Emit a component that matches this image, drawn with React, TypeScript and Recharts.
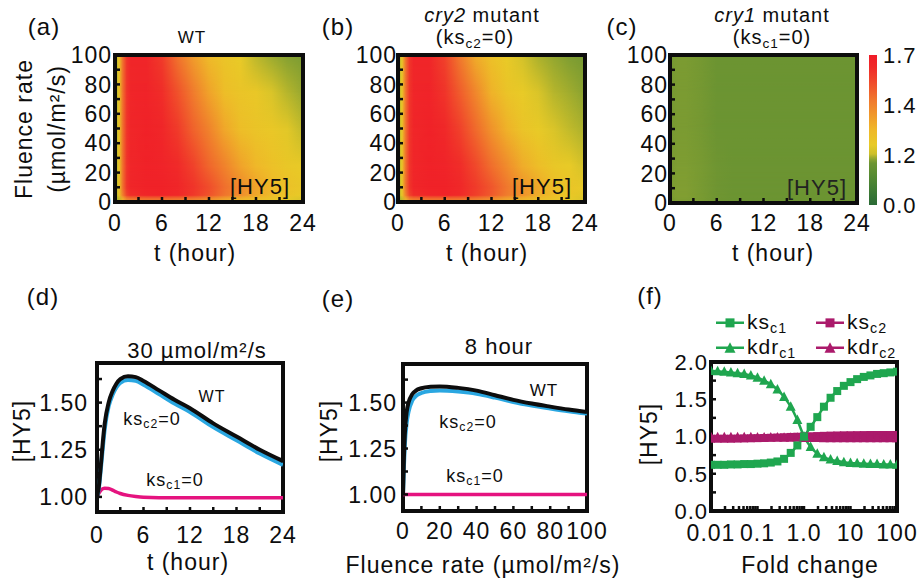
import React from "react"
import { ComposedChart, LineChart, Line, XAxis, YAxis, ReferenceArea } from "recharts"

const FONT = '"Liberation Sans", Arial, Helvetica, sans-serif'
const INK = "#0d0d0d"

// ---------- heat maps (a)-(c): [HY5] on a time x fluence grid ----------
const heatTimes = [0, 0.5, 1, 1.5, 2, 4, 6, 8, 10, 12, 14, 16, 18, 20, 22, 24]
const heatFluences = [0, 2, 5, 10, 25, 50, 75, 100]
const heatTimeTicks = [0, 3, 6, 9, 12, 15, 18, 21, 24]
const heatTimeLabels = [0, 6, 12, 18, 24]
const heatFluenceTicks = [0, 10, 20, 30, 40, 50, 60, 70, 80, 90, 100]
const heatFluenceLabels = [0, 20, 40, 60, 80, 100]

// rows follow heatFluences, columns follow heatTimes
const wtHeat = [
  [1.08, 1.12, 1.16, 1.19, 1.2, 1.22, 1.23, 1.23, 1.23, 1.23, 1.22, 1.22, 1.21, 1.21, 1.2, 1.2],
  [1.1, 1.2, 1.32, 1.4, 1.43, 1.45, 1.45, 1.44, 1.42, 1.38, 1.34, 1.31, 1.28, 1.26, 1.24, 1.22],
  [1.12, 1.25, 1.42, 1.56, 1.62, 1.65, 1.66, 1.64, 1.59, 1.52, 1.44, 1.38, 1.33, 1.29, 1.26, 1.24],
  [1.12, 1.25, 1.45, 1.6, 1.65, 1.67, 1.67, 1.65, 1.6, 1.53, 1.45, 1.39, 1.34, 1.3, 1.27, 1.25],
  [1.12, 1.25, 1.45, 1.6, 1.65, 1.67, 1.66, 1.63, 1.56, 1.47, 1.4, 1.34, 1.3, 1.27, 1.25, 1.24],
  [1.12, 1.25, 1.45, 1.6, 1.65, 1.67, 1.65, 1.58, 1.48, 1.4, 1.33, 1.28, 1.26, 1.25, 1.23, 1.2],
  [1.12, 1.25, 1.45, 1.6, 1.65, 1.66, 1.62, 1.52, 1.42, 1.34, 1.28, 1.26, 1.25, 1.22, 1.18, 1.12],
  [1.12, 1.25, 1.45, 1.6, 1.65, 1.65, 1.58, 1.44, 1.35, 1.29, 1.26, 1.24, 1.19, 1.13, 1.08, 1.05],
]
const cry2Heat = [
  [1.08, 1.12, 1.16, 1.19, 1.2, 1.22, 1.23, 1.23, 1.23, 1.23, 1.22, 1.22, 1.21, 1.21, 1.2, 1.2],
  [1.1, 1.2, 1.32, 1.4, 1.43, 1.45, 1.45, 1.44, 1.42, 1.38, 1.34, 1.31, 1.28, 1.26, 1.24, 1.22],
  [1.12, 1.25, 1.42, 1.56, 1.62, 1.65, 1.66, 1.63, 1.57, 1.5, 1.42, 1.37, 1.32, 1.28, 1.25, 1.23],
  [1.12, 1.25, 1.45, 1.6, 1.65, 1.67, 1.67, 1.64, 1.58, 1.51, 1.43, 1.37, 1.33, 1.28, 1.26, 1.24],
  [1.12, 1.25, 1.45, 1.6, 1.65, 1.67, 1.66, 1.62, 1.54, 1.45, 1.38, 1.32, 1.28, 1.25, 1.24, 1.21],
  [1.12, 1.25, 1.45, 1.6, 1.65, 1.67, 1.64, 1.56, 1.46, 1.37, 1.31, 1.26, 1.24, 1.22, 1.2, 1.16],
  [1.12, 1.25, 1.45, 1.6, 1.65, 1.66, 1.6, 1.49, 1.39, 1.31, 1.26, 1.24, 1.22, 1.18, 1.14, 1.09],
  [1.12, 1.25, 1.45, 1.6, 1.65, 1.65, 1.56, 1.42, 1.32, 1.27, 1.24, 1.21, 1.16, 1.11, 1.06, 1.03],
]
const cry1Heat = [
  [1.02, 1.03, 1.03, 1.03, 1.03, 1.02, 1.0, 1.0, 1.0, 1.0, 1.0, 1.0, 1.0, 1.0, 1.0, 1.0],
  [1.03, 1.05, 1.06, 1.06, 1.06, 1.04, 1.01, 1.0, 1.0, 1.0, 1.0, 1.0, 1.0, 1.0, 1.0, 1.0],
  [1.04, 1.06, 1.07, 1.07, 1.07, 1.04, 1.01, 1.0, 1.0, 1.0, 1.0, 1.0, 1.0, 1.0, 1.0, 1.0],
  [1.04, 1.06, 1.07, 1.07, 1.07, 1.04, 1.01, 1.0, 1.0, 1.0, 1.0, 1.0, 1.0, 1.0, 1.0, 1.0],
  [1.03, 1.05, 1.06, 1.06, 1.06, 1.04, 1.01, 1.0, 1.0, 1.0, 1.0, 1.0, 1.0, 1.0, 1.0, 1.0],
  [1.02, 1.04, 1.05, 1.05, 1.05, 1.03, 1.0, 1.0, 1.0, 1.0, 1.0, 1.0, 1.0, 1.0, 1.0, 1.0],
  [1.02, 1.04, 1.05, 1.05, 1.05, 1.03, 1.0, 1.0, 1.0, 1.0, 1.0, 1.0, 1.0, 1.0, 1.0, 1.0],
  [1.02, 1.04, 1.05, 1.05, 1.05, 1.03, 1.0, 1.0, 1.0, 1.0, 1.0, 1.0, 1.0, 1.0, 1.0, 1.0],
]

// colour bar: labels sit at even steps, so the scale is piecewise
const colorbarValues = [0.0, 1.2, 1.4, 1.7]
const colorbarLabels = ["0.0", "1.2", "1.4", "1.7"]
const colorbarLevels = [0, 1, 2, 3]
const colorStops: [number, string][] = [
  [0.0, "#2a6a36"],
  [0.1, "#3f7c34"],
  [0.2, "#578b32"],
  [0.278, "#6c9432"],
  [0.3, "#84a032"],
  [0.318, "#a2ad2e"],
  [0.34, "#cdbf2a"],
  [0.4, "#e8ca27"],
  [0.5, "#efb829"],
  [0.6, "#f0982b"],
  [0.7, "#f0782d"],
  [0.82, "#f04a2b"],
  [0.92, "#f02a29"],
  [1.0, "#f01c28"],
]

// ---------- (d) 30 umol/m2/s time course ----------
const dTimes = [0, 0.25, 0.5, 0.75, 1, 1.5, 2, 2.5, 3, 4, 5, 6, 8, 10, 12, 15, 18, 21, 24]
const dWT = [1.0, 1.06, 1.17, 1.29, 1.39, 1.5, 1.56, 1.6, 1.625, 1.64, 1.635, 1.615, 1.565, 1.515, 1.47, 1.39, 1.32, 1.25, 1.19]
const dKsc2 = [1.0, 1.05, 1.15, 1.26, 1.36, 1.48, 1.54, 1.58, 1.605, 1.62, 1.615, 1.595, 1.545, 1.495, 1.45, 1.37, 1.3, 1.23, 1.17]
const dKsc1 = [1.0, 1.02, 1.035, 1.043, 1.046, 1.045, 1.036, 1.026, 1.018, 1.008, 1.002, 0.998, 0.996, 0.996, 0.996, 0.996, 0.996, 0.996, 0.996]
const dTimeTicks = [0, 3, 6, 9, 12, 15, 18, 21, 24]
const dTimeLabels = [0, 6, 12, 18, 24]
const dValueTicks = [1.0, 1.125, 1.25, 1.375, 1.5, 1.625]
const dValueLabels = [1.0, 1.25, 1.5]

// ---------- (e) 8 hour fluence response ----------
const eFluence = [0, 0.5, 1, 2, 3, 5, 7, 10, 15, 20, 30, 40, 50, 60, 70, 80, 90, 100]
const eWT = [1.0, 1.2, 1.33, 1.45, 1.5, 1.545, 1.565, 1.578, 1.586, 1.588, 1.58, 1.565, 1.54, 1.515, 1.495, 1.478, 1.462, 1.448]
const eKsc2 = [1.0, 1.15, 1.27, 1.39, 1.45, 1.51, 1.535, 1.552, 1.563, 1.566, 1.56, 1.548, 1.527, 1.503, 1.484, 1.468, 1.453, 1.44]
const eKsc1 = [1.0, 1.0, 1.0, 1.0, 1.0, 1.0, 1.0, 1.0, 1.0, 1.0, 1.0, 1.0, 1.0, 1.0, 1.0, 1.0, 1.0, 1.0]
const eFluenceTicks = [0, 10, 20, 30, 40, 50, 60, 70, 80, 90, 100]
const eFluenceLabels = [0, 20, 40, 60, 80, 100]

// ---------- (f) parameter sensitivity ----------
const foldChange = [
  0.01, 0.01389, 0.01931, 0.02683, 0.03728, 0.0518, 0.07197, 0.1, 0.1389, 0.1931, 0.2683, 0.3728, 0.518, 0.7197, 1,
  1.389, 1.931, 2.683, 3.728, 5.18, 7.197, 10, 13.89, 19.31, 26.83, 37.28, 51.8, 71.97, 100,
]
const fKsc1 = [
  0.62, 0.62, 0.62, 0.625, 0.625, 0.63, 0.63, 0.635, 0.64, 0.65, 0.665, 0.7, 0.78, 0.88, 1.0,
  1.13, 1.26, 1.4, 1.52, 1.61, 1.68, 1.73, 1.77, 1.8, 1.82, 1.84, 1.85, 1.86, 1.87,
]
const fKdrc1 = [
  1.88, 1.875, 1.87, 1.86, 1.85, 1.84, 1.82, 1.79, 1.75, 1.7, 1.63, 1.53, 1.4, 1.22, 1.0,
  0.86, 0.77, 0.72, 0.69, 0.67, 0.655, 0.645, 0.64, 0.635, 0.63, 0.63, 0.625, 0.625, 0.62,
]
const fKsc2 = [
  0.97, 0.97, 0.97, 0.97, 0.972, 0.974, 0.976, 0.978, 0.98, 0.983, 0.986, 0.99, 0.994, 0.997, 1.0,
  1.003, 1.006, 1.009, 1.012, 1.014, 1.016, 1.017, 1.018, 1.019, 1.02, 1.02, 1.02, 1.02, 1.02,
]
const fKdrc2 = [
  0.99, 0.99, 0.99, 0.99, 0.99, 0.99, 0.989, 0.988, 0.987, 0.986, 0.985, 0.984, 0.983, 0.982, 0.981,
  0.98, 0.979, 0.978, 0.977, 0.977, 0.976, 0.976, 0.975, 0.975, 0.975, 0.975, 0.975, 0.975, 0.975,
]
const foldTicks = [
  0.01, 0.02, 0.03, 0.04, 0.05, 0.06, 0.07, 0.08, 0.09, 0.1, 0.2, 0.3, 0.4, 0.5, 0.6, 0.7, 0.8, 0.9, 1,
  2, 3, 4, 5, 6, 7, 8, 9, 10, 20, 30, 40, 50, 60, 70, 80, 90, 100,
]
const foldLabelValues = [0.01, 0.1, 1, 10, 100]
const foldLabelTexts = ["0.01", "0.1", "1.0", "10", "100"]
const fValueTicks = [0, 0.25, 0.5, 0.75, 1, 1.25, 1.5, 1.75, 2]
const fValueLabels = [0, 0.5, 1, 1.5, 2]

const GREEN = "#1fa64f"
const MAGENTA = "#ab1a6b"
const foldSeries = [
  { key: "ksc2", base: "ks", sub: "c2", color: MAGENTA, marker: "square" },
  { key: "kdrc2", base: "kdr", sub: "c2", color: MAGENTA, marker: "triangle" },
  { key: "ksc1", base: "ks", sub: "c1", color: GREEN, marker: "square" },
  { key: "kdrc1", base: "kdr", sub: "c1", color: GREEN, marker: "triangle" },
]

// ---------- helpers ----------
const hexToRgb = (h: string) => [1, 3, 5].map((i) => parseInt(h.slice(i, i + 2), 16))
function colorAt(pos: number) {
  const p = Math.max(0, Math.min(1, pos))
  for (let i = 0; i < colorStops.length - 1; i++) {
    const [p0, c0] = colorStops[i]
    const [p1, c1] = colorStops[i + 1]
    if (p <= p1) {
      const f = (p - p0) / (p1 - p0)
      const a = hexToRgb(c0)
      const b = hexToRgb(c1)
      return `rgb(${a.map((v, k) => Math.round(v + (b[k] - v) * f)).join(",")})`
    }
  }
  return colorStops[colorStops.length - 1][1]
}
function valueToPos(v: number) {
  const n = colorbarValues.length - 1
  for (let i = 0; i < n; i++) {
    const a = colorbarValues[i]
    const b = colorbarValues[i + 1]
    if (v <= b || i === n - 1) return (i + (v - a) / (b - a)) / n
  }
  return 1
}
const heatColor = (v: number) => colorAt(valueToPos(v))

const YW = 80
const XH = 70
const MT = 20
const MR = 20
type Box = { x: number; y: number; w: number; h: number }
const wrap = (b: Box): React.CSSProperties => ({
  position: "absolute",
  left: b.x - YW,
  top: b.y - MT,
  width: b.w + YW + MR,
  height: b.h + MT + XH,
})
const margin = { top: MT, right: MR, left: 0, bottom: 0 }
const tickText = { fill: INK, fontSize: 23 }
const tickLine = { stroke: INK, strokeWidth: 2.5 }
const onlyLabels = (labels: number[], digits = 0) => (v: number) => (labels.includes(v) ? v.toFixed(digits) : "")

function Txt({ x, y, size = 23, rotate, style, children }: any) {
  return (
    <div
      style={{
        position: "absolute",
        left: x,
        top: y,
        transform: `translate(-50%, -50%)${rotate ? ` rotate(${rotate}deg)` : ""}`,
        fontSize: size,
        lineHeight: 1,
        whiteSpace: "nowrap",
        ...style,
      }}
    >
      {children}
    </div>
  )
}
const Sub = ({ children }: any) => <span style={{ fontSize: "0.68em", verticalAlign: "-0.28em" }}>{children}</span>

function HeatBand(props: any) {
  const { x, y, width, height, lower, upper } = props
  return (
    <g>
      <rect x={x} y={y} width={width} height={height + 1} fill={`url(#${lower})`} />
      <rect x={x} y={y} width={width} height={height} fill={`url(#${upper})`} mask="url(#heat-fade)" />
    </g>
  )
}

function HeatDefs({ id, grid }: { id: string; grid: number[][] }) {
  const t0 = heatTimes[0]
  const t1 = heatTimes[heatTimes.length - 1]
  return (
    <>
      {grid.map((row, i) => (
        <linearGradient key={i} id={`${id}-row${i}`} x1="0" y1="0" x2="1" y2="0">
          {row.map((v, j) => (
            <stop key={j} offset={(heatTimes[j] - t0) / (t1 - t0)} stopColor={heatColor(v)} />
          ))}
        </linearGradient>
      ))}
    </>
  )
}

function HeatPanel({ id, box, yMargin, xMargin }: { id: string; box: Box; yMargin: number; xMargin: number }) {
  const data = heatTimes.map((t) => ({ t }))
  return (
    <div style={wrap(box)}>
      <ComposedChart width={box.w + YW + MR} height={box.h + MT + XH} data={data} margin={margin}>
        <XAxis
          type="number"
          dataKey="t"
          domain={[0, 24]}
          allowDataOverflow
          ticks={heatTimeTicks}
          interval={0}
          tickFormatter={onlyLabels(heatTimeLabels)}
          axisLine={false}
          tickSize={-5}
          tickMargin={xMargin}
          tickLine={tickLine}
          tick={tickText}
          height={XH}
        />
        <YAxis
          type="number"
          domain={[0, 100]}
          allowDataOverflow
          ticks={heatFluenceTicks}
          interval={0}
          tickFormatter={onlyLabels(heatFluenceLabels)}
          axisLine={false}
          tickSize={-5}
          tickMargin={yMargin}
          tickLine={tickLine}
          tick={tickText}
          width={YW}
        />
        {heatFluences.slice(0, -1).map((f, i) => (
          <ReferenceArea
            key={i}
            x1={0}
            x2={24}
            y1={f}
            y2={heatFluences[i + 1]}
            shape={(p: any) => <HeatBand {...p} lower={`${id}-row${i}`} upper={`${id}-row${i + 1}`} />}
          />
        ))}
        <ReferenceArea x1={0} x2={24} y1={0} y2={100} fill="none" stroke={INK} strokeWidth={4} />
      </ComposedChart>
    </div>
  )
}

function ColorBar() {
  const box = { x: 869, y: 55, w: 8, h: 150 }
  const RW = 46
  const BH = 20
  const data = colorbarLevels.map((level) => ({ level }))
  const top = colorbarLevels.length - 1
  return (
    <div style={{ position: "absolute", left: box.x, top: box.y - MT, width: box.w + RW, height: box.h + MT + BH }}>
      <ComposedChart width={box.w + RW} height={box.h + MT + BH} data={data} margin={{ top: MT, right: 0, left: 0, bottom: 0 }}>
        <XAxis
          type="number"
          dataKey="level"
          domain={[0, top]}
          allowDataOverflow
          tick={false}
          axisLine={false}
          tickLine={false}
          height={BH}
        />
        <YAxis
          orientation="right"
          type="number"
          domain={[0, top]}
          allowDataOverflow
          ticks={colorbarLevels}
          interval={0}
          tickFormatter={(v: number) => colorbarLabels[v]}
          axisLine={false}
          tickLine={false}
          tickSize={0}
          tickMargin={6}
          tick={{ fill: INK, fontSize: 22 }}
          width={RW}
        />
        <ReferenceArea x1={0} x2={top} y1={0} y2={top} fill="url(#cbar)" fillOpacity={1} />
      </ComposedChart>
    </div>
  )
}

function FramedLines(props: any) {
  const { box, data, xKey, xDomain, xTicks, xFormat, yDomain, yTicks, yFormat, xMargin, yMargin, xScale, yFont, children } = props
  return (
    <div style={wrap(box)}>
      <LineChart width={box.w + YW + MR} height={box.h + MT + XH} data={data} margin={margin}>
        <XAxis
          type="number"
          dataKey={xKey}
          scale={xScale || "auto"}
          domain={xDomain}
          allowDataOverflow
          ticks={xTicks}
          interval={0}
          tickFormatter={xFormat}
          axisLine={false}
          tickSize={-5}
          tickMargin={xMargin}
          tickLine={tickLine}
          tick={tickText}
          height={XH}
        />
        <YAxis
          type="number"
          domain={yDomain}
          allowDataOverflow
          ticks={yTicks}
          interval={0}
          tickFormatter={yFormat}
          axisLine={false}
          tickSize={-5}
          tickMargin={yMargin}
          tickLine={tickLine}
          tick={{ fill: INK, fontSize: yFont || 23 }}
          width={YW}
        />
        {children}
        <ReferenceArea x1={xDomain[0]} x2={xDomain[1]} y1={yDomain[0]} y2={yDomain[1]} fill="none" stroke={INK} strokeWidth={4} />
      </LineChart>
    </div>
  )
}

const squareDot = (color: string) => (p: any) => (
  <rect key={`s${p.index}`} x={p.cx - 4} y={p.cy - 4} width={8} height={8} fill={color} />
)
const triangleDot = (color: string) => (p: any) => (
  <path
    key={`t${p.index}`}
    d={`M${p.cx},${p.cy - 5.5}L${p.cx + 5},${p.cy + 4}L${p.cx - 5},${p.cy + 4}Z`}
    fill={color}
  />
)

function LegendItem({ x, y, s }: any) {
  return (
    <div style={{ position: "absolute", left: x, top: y, transform: "translateY(-50%)", display: "flex", alignItems: "center", fontSize: 21, lineHeight: 1, whiteSpace: "nowrap" }}>
      <svg width={28} height={12} style={{ marginRight: 3 }}>
        <line x1={0} y1={6} x2={28} y2={6} stroke={s.color} strokeWidth={2.5} />
        {s.marker === "square" ? (
          <rect x={9.5} y={1.5} width={9} height={9} fill={s.color} />
        ) : (
          <path d="M14,0.5L19.5,11L8.5,11Z" fill={s.color} />
        )}
      </svg>
      <span>
        {s.base}
        <Sub>{s.sub}</Sub>
      </span>
    </div>
  )
}

export default function App() {
  const dData = dTimes.map((t, i) => ({ t, wt: dWT[i], ksc2: dKsc2[i], ksc1: dKsc1[i] }))
  const eData = eFluence.map((f, i) => ({ f, wt: eWT[i], ksc2: eKsc2[i], ksc1: eKsc1[i] }))
  const fData = foldChange.map((f, i) => ({ f, ksc1: fKsc1[i], kdrc1: fKdrc1[i], ksc2: fKsc2[i], kdrc2: fKdrc2[i] }))
  const legendPos: Record<string, [number, number]> = {
    ksc1: [716, 323],
    kdrc1: [716, 348],
    ksc2: [816, 323],
    kdrc2: [816, 348],
  }

  return (
    <div
      style={{
        position: "absolute",
        left: 0,
        top: 0,
        width: 923,
        height: 579,
        background: "#fff",
        fontFamily: FONT,
        color: INK,
        letterSpacing: "1px",
        overflow: "hidden",
      }}
    >
      <svg width={0} height={0} style={{ position: "absolute" }}>
        <defs>
          <linearGradient id="heat-fade-grad" x1="0" y1="0" x2="0" y2="1">
            <stop offset={0} stopColor="#fff" stopOpacity={1} />
            <stop offset={1} stopColor="#fff" stopOpacity={0} />
          </linearGradient>
          <mask id="heat-fade" maskContentUnits="objectBoundingBox">
            <rect x={0} y={0} width={1} height={1} fill="url(#heat-fade-grad)" />
          </mask>
          <linearGradient id="cbar" x1="0" y1="1" x2="0" y2="0">
            {colorStops.map(([p, c], i) => (
              <stop key={i} offset={p} stopColor={c} />
            ))}
          </linearGradient>
          <HeatDefs id="wt" grid={wtHeat} />
          <HeatDefs id="cry2" grid={cry2Heat} />
          <HeatDefs id="cry1" grid={cry1Heat} />
        </defs>
      </svg>

      <HeatPanel id="wt" box={{ x: 115, y: 55, w: 188, h: 147 }} yMargin={8} xMargin={18} />
      <HeatPanel id="cry2" box={{ x: 398, y: 55, w: 187, h: 147 }} yMargin={6} xMargin={18} />
      <HeatPanel id="cry1" box={{ x: 670, y: 55, w: 187, h: 148 }} yMargin={7} xMargin={17} />
      <ColorBar />

      <FramedLines
        box={{ x: 97, y: 363, w: 186, h: 149 }}
        data={dData}
        xKey="t"
        xDomain={[0, 24]}
        xTicks={dTimeTicks}
        xFormat={onlyLabels(dTimeLabels)}
        yDomain={[0.92, 1.71]}
        yTicks={dValueTicks}
        yFormat={onlyLabels(dValueLabels, 2)}
        xMargin={20}
        yMargin={14}
      >
        <Line type="monotone" dataKey="ksc1" stroke="#e5137f" strokeWidth={3.5} dot={false} isAnimationActive={false} />
        <Line type="monotone" dataKey="ksc2" stroke="#2aa7e1" strokeWidth={4} dot={false} isAnimationActive={false} />
        <Line type="monotone" dataKey="wt" stroke={INK} strokeWidth={4} dot={false} isAnimationActive={false} />
      </FramedLines>

      <FramedLines
        box={{ x: 403, y: 364, w: 184, h: 147 }}
        data={eData}
        xKey="f"
        xDomain={[0, 100]}
        xTicks={eFluenceTicks}
        xFormat={onlyLabels(eFluenceLabels)}
        yDomain={[0.91, 1.71]}
        yTicks={dValueTicks}
        yFormat={onlyLabels(dValueLabels, 2)}
        xMargin={17}
        yMargin={11}
      >
        <Line type="monotone" dataKey="ksc1" stroke="#e5137f" strokeWidth={3.5} dot={false} isAnimationActive={false} />
        <Line type="monotone" dataKey="ksc2" stroke="#2aa7e1" strokeWidth={4} dot={false} isAnimationActive={false} />
        <Line type="monotone" dataKey="wt" stroke={INK} strokeWidth={4} dot={false} isAnimationActive={false} />
      </FramedLines>

      <FramedLines
        box={{ x: 711, y: 362, w: 186, h: 149 }}
        data={fData}
        xKey="f"
        xScale="log"
        xDomain={[0.01, 100]}
        xTicks={foldTicks}
        xFormat={(v: number) => {
          const i = foldLabelValues.indexOf(v)
          return i >= 0 ? foldLabelTexts[i] : ""
        }}
        yDomain={[0, 2]}
        yTicks={fValueTicks}
        yFormat={onlyLabels(fValueLabels, 1)}
        xMargin={19}
        yMargin={8}
        yFont={22}
      >
        {foldSeries.map((s) => (
          <Line
            key={s.key}
            type="monotone"
            dataKey={s.key}
            stroke={s.color}
            strokeWidth={2.5}
            dot={s.marker === "square" ? squareDot(s.color) : triangleDot(s.color)}
            isAnimationActive={false}
          />
        ))}
      </FramedLines>

      {/* panel letters */}
      <Txt x={44} y={27} size={24}>(a)</Txt>
      <Txt x={338} y={27} size={24}>(b)</Txt>
      <Txt x={622} y={27} size={24}>(c)</Txt>
      <Txt x={43} y={297} size={24}>(d)</Txt>
      <Txt x={338} y={299} size={24}>(e)</Txt>
      <Txt x={650} y={296} size={24}>(f)</Txt>

      {/* titles */}
      <Txt x={192} y={37} size={17}>WT</Txt>
      <Txt x={482} y={15} size={20}>
        <i>cry2</i> mutant
      </Txt>
      <Txt x={475} y={39} size={20}>
        (ks<Sub>c2</Sub>=0)
      </Txt>
      <Txt x={772} y={15} size={20}>
        <i>cry1</i> mutant
      </Txt>
      <Txt x={772} y={39} size={20}>
        (ks<Sub>c1</Sub>=0)
      </Txt>
      <Txt x={197} y={351} size={22}>30 µmol/m²/s</Txt>
      <Txt x={499} y={347} size={22}>8 hour</Txt>

      {/* heat map labels */}
      <Txt x={260} y={187} size={22}>[HY5]</Txt>
      <Txt x={542} y={187} size={22}>[HY5]</Txt>
      <Txt x={817} y={188} size={22} style={{ color: "#222" }}>[HY5]</Txt>

      {/* axis titles */}
      <Txt x={24} y={129} size={23} rotate={-90}>Fluence rate</Txt>
      <Txt x={57} y={129} size={23} rotate={-90}>(µmol/m²/s)</Txt>
      <Txt x={195} y={253} size={23}>t (hour)</Txt>
      <Txt x={487} y={253} size={23}>t (hour)</Txt>
      <Txt x={773} y={253} size={23}>t (hour)</Txt>
      <Txt x={22} y={431} size={23} rotate={-90}>[HY5]</Txt>
      <Txt x={329} y={431} size={23} rotate={-90}>[HY5]</Txt>
      <Txt x={649} y={434} size={23} rotate={-90}>[HY5]</Txt>
      <Txt x={188} y={562} size={23}>t (hour)</Txt>
      <Txt x={483} y={565} size={23}>Fluence rate (µmol/m²/s)</Txt>
      <Txt x={810} y={565} size={23}>Fold change</Txt>

      {/* line annotations */}
      <Txt x={212} y={397} size={16}>WT</Txt>
      <Txt x={152} y={420} size={18}>
        ks<Sub>c2</Sub>=0
      </Txt>
      <Txt x={175} y={481} size={18}>
        ks<Sub>c1</Sub>=0
      </Txt>
      <Txt x={544} y={390} size={17}>WT</Txt>
      <Txt x={468} y={423} size={18}>
        ks<Sub>c2</Sub>=0
      </Txt>
      <Txt x={475} y={477} size={18}>
        ks<Sub>c1</Sub>=0
      </Txt>

      {/* legend for (f) */}
      {foldSeries.map((s) => (
        <LegendItem key={s.key} x={legendPos[s.key][0]} y={legendPos[s.key][1]} s={s} />
      ))}
    </div>
  )
}
